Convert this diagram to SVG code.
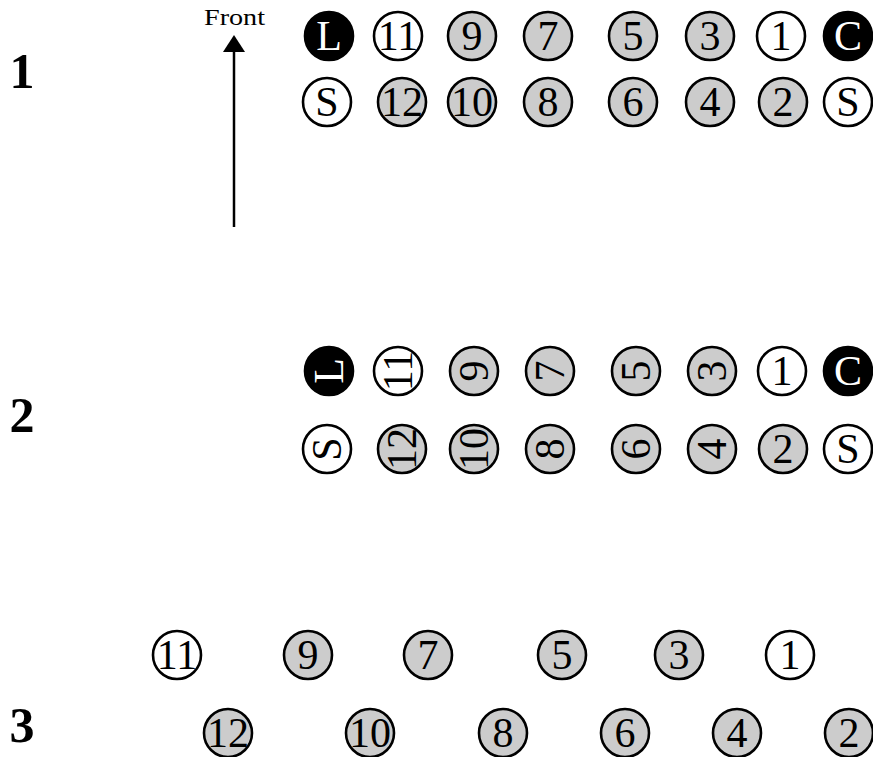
<svg xmlns="http://www.w3.org/2000/svg" width="873" height="757" viewBox="0 0 873 757">
<defs>
<style>
.c{stroke:#000;stroke-width:2.6}
.g{fill:#cccccc}
.w{fill:#ffffff}
.b{fill:#000000}
.t{font-family:"Liberation Serif","Times New Roman",serif;font-size:42px;text-anchor:middle;dominant-baseline:central;fill:#000}
.tw{fill:#fff}
.lab{font-family:"Liberation Serif","Times New Roman",serif;font-size:50px;font-weight:bold;text-anchor:middle;fill:#000}
</style>
</defs>
<rect width="873" height="757" fill="#fff"/>
<text class="lab" x="22" y="88">1</text>
<text class="lab" x="22" y="432">2</text>
<text class="lab" x="22" y="742">3</text>
<g id="front">
<text x="204" y="25" font-family="'Liberation Serif','Times New Roman',serif" font-size="23" textLength="61" lengthAdjust="spacingAndGlyphs">Front</text>
</g>
<g id="connectors">
<line x1="234" y1="227" x2="234" y2="50" stroke="#000" stroke-width="2.5"/>
<path d="M234,35 L245,52 L223,52 Z" fill="#000"/>
</g>
<!-- Section 1 -->
<g id="s1-L"><ellipse class="c b" cx="329" cy="36" rx="24" ry="24"/><text class="t tw" x="329" y="36">L</text></g>
<g id="s1-11"><ellipse class="c w" cx="398" cy="36" rx="24" ry="24"/><text class="t" x="398" y="36">11</text></g>
<g id="s1-9"><ellipse class="c g" cx="472" cy="36" rx="24" ry="24"/><text class="t" x="472" y="36">9</text></g>
<g id="s1-7"><ellipse class="c g" cx="548" cy="36" rx="24" ry="24"/><text class="t" x="548" y="36">7</text></g>
<g id="s1-5"><ellipse class="c g" cx="633" cy="36" rx="24" ry="24"/><text class="t" x="633" y="36">5</text></g>
<g id="s1-3"><ellipse class="c g" cx="710" cy="36" rx="24" ry="24"/><text class="t" x="710" y="36">3</text></g>
<g id="s1-1"><ellipse class="c w" cx="781" cy="36" rx="24" ry="24"/><text class="t" x="781" y="36">1</text></g>
<g id="s1-C"><ellipse class="c b" cx="848" cy="36" rx="24" ry="24"/><text class="t tw" x="848" y="36">C</text></g>
<g id="s1-S1"><ellipse class="c w" cx="327" cy="102" rx="24" ry="24"/><text class="t" x="327" y="102">S</text></g>
<g id="s1-12"><ellipse class="c g" cx="402" cy="102" rx="24" ry="24"/><text class="t" x="402" y="102">12</text></g>
<g id="s1-10"><ellipse class="c g" cx="472" cy="102" rx="24" ry="24"/><text class="t" x="472" y="102">10</text></g>
<g id="s1-8"><ellipse class="c g" cx="548" cy="102" rx="24" ry="24"/><text class="t" x="548" y="102">8</text></g>
<g id="s1-6"><ellipse class="c g" cx="633" cy="102" rx="24" ry="24"/><text class="t" x="633" y="102">6</text></g>
<g id="s1-4"><ellipse class="c g" cx="710" cy="102" rx="24" ry="24"/><text class="t" x="710" y="102">4</text></g>
<g id="s1-2"><ellipse class="c g" cx="783" cy="102" rx="24" ry="24"/><text class="t" x="783" y="102">2</text></g>
<g id="s1-S2"><ellipse class="c w" cx="848" cy="102" rx="24" ry="24"/><text class="t" x="848" y="102">S</text></g>
<!-- Section 2 -->
<g id="s2-L"><ellipse class="c b" cx="329" cy="371" rx="24" ry="24"/><text class="t tw" transform="rotate(-90 329 371)" x="329" y="371">L</text></g>
<g id="s2-11"><ellipse class="c w" cx="398" cy="371" rx="24" ry="24"/><text class="t" transform="rotate(-90 398 371)" x="398" y="371">11</text></g>
<g id="s2-9"><ellipse class="c g" cx="474" cy="371" rx="24" ry="24"/><text class="t" transform="rotate(-90 474 371)" x="474" y="371">9</text></g>
<g id="s2-7"><ellipse class="c g" cx="550" cy="371" rx="24" ry="24"/><text class="t" transform="rotate(-90 550 371)" x="550" y="371">7</text></g>
<g id="s2-5"><ellipse class="c g" cx="636" cy="371" rx="24" ry="24"/><text class="t" transform="rotate(-90 636 371)" x="636" y="371">5</text></g>
<g id="s2-3"><ellipse class="c g" cx="712" cy="371" rx="24" ry="24"/><text class="t" transform="rotate(-90 712 371)" x="712" y="371">3</text></g>
<g id="s2-1"><ellipse class="c w" cx="782" cy="371" rx="24" ry="24"/><text class="t" x="782" y="371">1</text></g>
<g id="s2-C"><ellipse class="c b" cx="848" cy="371" rx="24" ry="24"/><text class="t tw" x="848" y="371">C</text></g>
<g id="s2-S1"><ellipse class="c w" cx="327" cy="449" rx="24" ry="24"/><text class="t" transform="rotate(-90 327 449)" x="327" y="449">S</text></g>
<g id="s2-12"><ellipse class="c g" cx="402" cy="449" rx="24" ry="24"/><text class="t" transform="rotate(-90 402 449)" x="402" y="449">12</text></g>
<g id="s2-10"><ellipse class="c g" cx="474" cy="449" rx="24" ry="24"/><text class="t" transform="rotate(-90 474 449)" x="474" y="449">10</text></g>
<g id="s2-8"><ellipse class="c g" cx="550" cy="449" rx="24" ry="24"/><text class="t" transform="rotate(-90 550 449)" x="550" y="449">8</text></g>
<g id="s2-6"><ellipse class="c g" cx="636" cy="449" rx="24" ry="24"/><text class="t" transform="rotate(-90 636 449)" x="636" y="449">6</text></g>
<g id="s2-4"><ellipse class="c g" cx="712" cy="449" rx="24" ry="24"/><text class="t" transform="rotate(-90 712 449)" x="712" y="449">4</text></g>
<g id="s2-2"><ellipse class="c g" cx="783" cy="449" rx="24" ry="24"/><text class="t" x="783" y="449">2</text></g>
<g id="s2-S2"><ellipse class="c w" cx="848" cy="449" rx="24" ry="24"/><text class="t" x="848" y="449">S</text></g>
<!-- Section 3 -->
<g id="s3-11"><ellipse class="c w" cx="177" cy="655" rx="24" ry="24"/><text class="t" x="177" y="655">11</text></g>
<g id="s3-9"><ellipse class="c g" cx="308" cy="655" rx="24" ry="24"/><text class="t" x="308" y="655">9</text></g>
<g id="s3-7"><ellipse class="c g" cx="428" cy="655" rx="24" ry="24"/><text class="t" x="428" y="655">7</text></g>
<g id="s3-5"><ellipse class="c g" cx="562" cy="655" rx="24" ry="24"/><text class="t" x="562" y="655">5</text></g>
<g id="s3-3"><ellipse class="c g" cx="679" cy="655" rx="24" ry="24"/><text class="t" x="679" y="655">3</text></g>
<g id="s3-1"><ellipse class="c w" cx="790" cy="655" rx="24" ry="24"/><text class="t" x="790" y="655">1</text></g>
<g id="s3-12"><ellipse class="c g" cx="228" cy="733" rx="24" ry="24"/><text class="t" x="228" y="733">12</text></g>
<g id="s3-10"><ellipse class="c g" cx="370" cy="733" rx="24" ry="24"/><text class="t" x="370" y="733">10</text></g>
<g id="s3-8"><ellipse class="c g" cx="503" cy="733" rx="24" ry="24"/><text class="t" x="503" y="733">8</text></g>
<g id="s3-6"><ellipse class="c g" cx="625" cy="733" rx="24" ry="24"/><text class="t" x="625" y="733">6</text></g>
<g id="s3-4"><ellipse class="c g" cx="737" cy="733" rx="24" ry="24"/><text class="t" x="737" y="733">4</text></g>
<g id="s3-2"><ellipse class="c g" cx="849" cy="733" rx="24" ry="24"/><text class="t" x="849" y="733">2</text></g>
</svg>
